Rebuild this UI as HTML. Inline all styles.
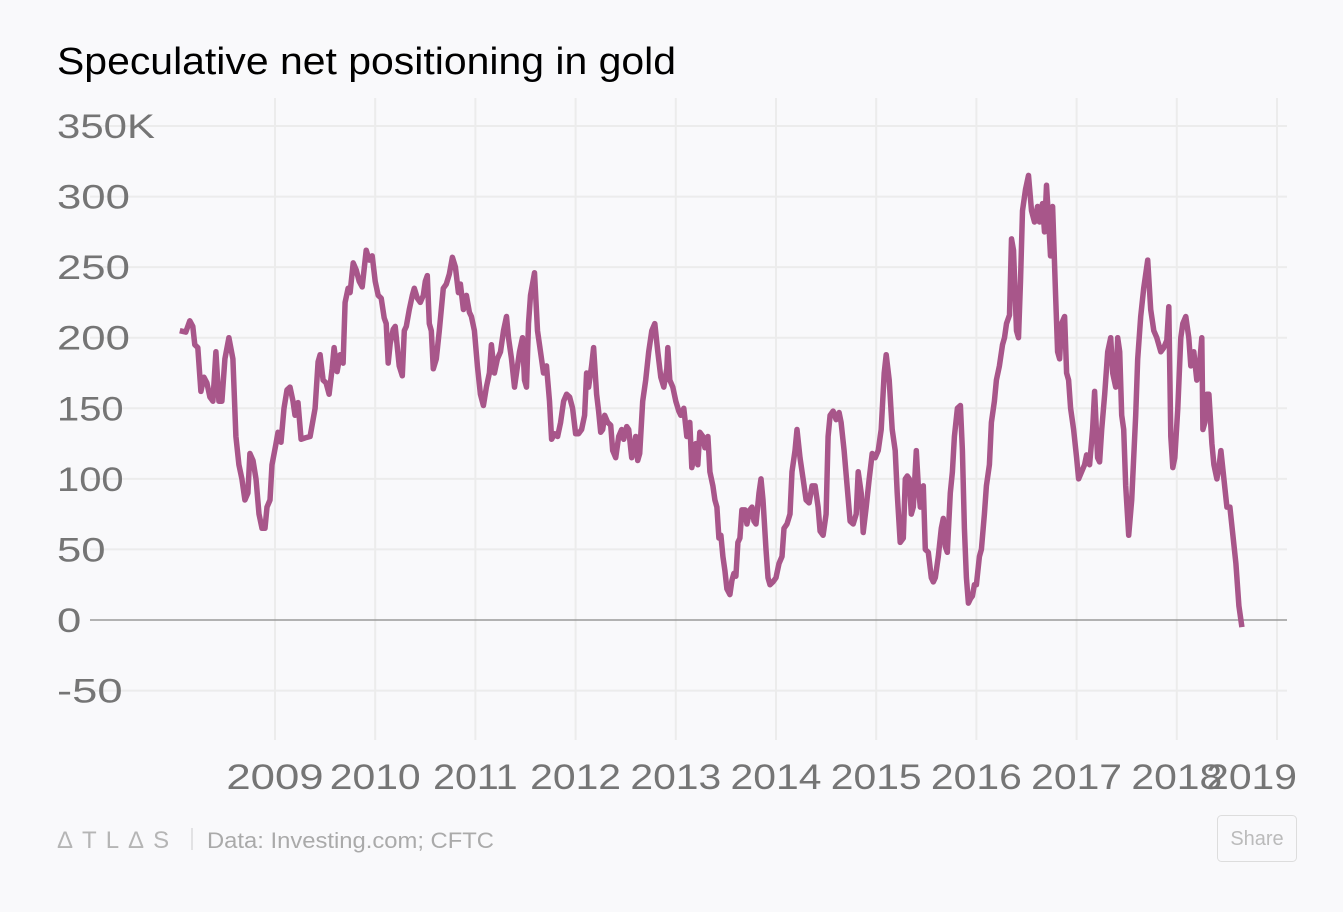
<!DOCTYPE html>
<html><head><meta charset="utf-8"><style>
body{margin:0;background:#f9f9fb;width:1343px;height:907px;overflow:hidden;font-family:"Liberation Sans",sans-serif}
</style></head><body>
<svg width="1343" height="907">
<rect width="1343" height="907" fill="#f9f9fb"/>
<text x="57" y="74" font-size="38" fill="#000" textLength="619" lengthAdjust="spacingAndGlyphs">Speculative net positioning in gold</text>
<g id="grid"></g>
<g id="yl"></g>
<g id="xl"></g>
<path id="ln" fill="none" stroke="#a8568a" stroke-width="5.5" stroke-linejoin="round"/>
<text x="57" y="848" font-size="24" fill="#b5b5b5" letter-spacing="9">ΔTLΔS</text>
<line x1="192" y1="828" x2="192" y2="850" stroke="#ccc"/>
<text x="207" y="848" font-size="22" fill="#aaa" textLength="287" lengthAdjust="spacingAndGlyphs">Data:  Investing.com; CFTC</text>
<g><rect x="1217.5" y="815.5" width="79" height="46" rx="4" fill="none" stroke="#ddd"/>
<text x="1257" y="845" font-size="20" fill="#bbb" text-anchor="middle">Share</text></g>
</svg>
<script>
const dates=[2008.05,2008.11,2008.15,2008.18,2008.2,2008.23,2008.26,2008.29,2008.32,2008.35,2008.38,2008.41,2008.44,2008.47,2008.5,2008.54,2008.58,2008.61,2008.64,2008.67,2008.7,2008.73,2008.75,2008.78,2008.81,2008.84,2008.87,2008.9,2008.92,2008.95,2008.97,2009.01,2009.03,2009.06,2009.09,2009.12,2009.15,2009.18,2009.2,2009.23,2009.26,2009.3,2009.35,2009.4,2009.43,2009.45,2009.48,2009.51,2009.54,2009.57,2009.59,2009.62,2009.65,2009.68,2009.7,2009.73,2009.75,2009.78,2009.81,2009.84,2009.87,2009.91,2009.94,2009.97,2010.0,2010.03,2010.06,2010.09,2010.11,2010.13,2010.15,2010.18,2010.2,2010.24,2010.27,2010.29,2010.31,2010.34,2010.37,2010.39,2010.42,2010.45,2010.48,2010.5,2010.52,2010.54,2010.56,2010.58,2010.61,2010.64,2010.68,2010.71,2010.74,2010.77,2010.8,2010.83,2010.85,2010.88,2010.91,2010.94,2010.96,2010.99,2011.02,2011.05,2011.08,2011.11,2011.14,2011.16,2011.19,2011.22,2011.25,2011.28,2011.31,2011.33,2011.36,2011.39,2011.41,2011.44,2011.47,2011.49,2011.51,2011.53,2011.55,2011.59,2011.62,2011.65,2011.68,2011.71,2011.74,2011.76,2011.79,2011.82,2011.85,2011.88,2011.91,2011.94,2011.97,2012.0,2012.03,2012.06,2012.09,2012.11,2012.13,2012.16,2012.18,2012.21,2012.23,2012.25,2012.27,2012.29,2012.32,2012.35,2012.37,2012.4,2012.43,2012.46,2012.48,2012.51,2012.53,2012.56,2012.58,2012.6,2012.62,2012.64,2012.67,2012.7,2012.73,2012.76,2012.79,2012.82,2012.85,2012.88,2012.91,2012.92,2012.94,2012.97,2013.0,2013.03,2013.05,2013.08,2013.11,2013.14,2013.16,2013.18,2013.2,2013.22,2013.24,2013.27,2013.29,2013.32,2013.34,2013.37,2013.39,2013.41,2013.43,2013.45,2013.47,2013.49,2013.51,2013.54,2013.56,2013.58,2013.6,2013.62,2013.64,2013.66,2013.69,2013.71,2013.74,2013.76,2013.78,2013.8,2013.83,2013.85,2013.87,2013.9,2013.92,2013.94,2013.97,2014.0,2014.03,2014.06,2014.08,2014.11,2014.14,2014.16,2014.19,2014.21,2014.24,2014.27,2014.3,2014.33,2014.36,2014.39,2014.42,2014.44,2014.47,2014.5,2014.52,2014.54,2014.57,2014.6,2014.63,2014.65,2014.68,2014.71,2014.74,2014.77,2014.8,2014.82,2014.85,2014.87,2014.9,2014.93,2014.96,2014.99,2015.02,2015.05,2015.08,2015.1,2015.13,2015.16,2015.19,2015.21,2015.24,2015.27,2015.29,2015.31,2015.33,2015.35,2015.37,2015.4,2015.42,2015.44,2015.47,2015.49,2015.52,2015.55,2015.57,2015.59,2015.62,2015.65,2015.67,2015.69,2015.71,2015.74,2015.76,2015.78,2015.81,2015.84,2015.86,2015.88,2015.9,2015.92,2015.94,2015.96,2015.98,2016.0,2016.03,2016.05,2016.08,2016.1,2016.13,2016.15,2016.18,2016.2,2016.23,2016.26,2016.28,2016.3,2016.33,2016.35,2016.37,2016.4,2016.42,2016.44,2016.46,2016.49,2016.52,2016.55,2016.58,2016.61,2016.63,2016.66,2016.68,2016.7,2016.72,2016.74,2016.76,2016.79,2016.81,2016.83,2016.85,2016.88,2016.9,2016.92,2016.94,2016.97,2017.0,2017.02,2017.05,2017.08,2017.1,2017.13,2017.16,2017.18,2017.21,2017.23,2017.25,2017.28,2017.31,2017.34,2017.36,2017.39,2017.41,2017.43,2017.45,2017.47,2017.49,2017.52,2017.55,2017.59,2017.61,2017.64,2017.67,2017.71,2017.74,2017.77,2017.8,2017.82,2017.84,2017.87,2017.9,2017.92,2017.94,2017.96,2017.98,2018.01,2018.04,2018.06,2018.09,2018.12,2018.14,2018.17,2018.2,2018.22,2018.25,2018.26,2018.28,2018.3,2018.32,2018.35,2018.37,2018.4,2018.42,2018.44,2018.47,2018.5,2018.53,2018.56,2018.59,2018.62,2018.65];
const values=[205,204,212,208,195,193,162,172,168,158,155,190,155,155,185,200,185,130,110,100,85,90,118,113,100,75,65,65,80,85,110,125,133,126,150,163,165,155,145,154,128,129,130,150,183,188,170,168,160,178,193,176,188,182,225,235,232,253,248,240,236,262,255,258,240,230,228,214,210,182,196,206,208,180,173,205,208,220,230,235,228,225,230,240,244,210,205,178,185,205,235,238,245,257,250,232,238,220,230,218,215,205,180,160,152,165,175,195,175,185,190,205,215,200,185,165,175,190,200,170,165,210,230,246,205,190,175,180,155,128,132,130,140,155,160,158,150,132,132,135,145,175,165,180,193,160,148,133,135,145,140,138,120,115,130,135,128,137,135,115,120,130,113,118,155,170,190,205,210,190,172,165,178,193,170,165,155,148,145,150,130,140,108,115,125,110,133,130,122,130,105,95,85,80,58,60,45,35,22,18,28,33,31,55,58,78,78,68,78,80,70,68,90,100,85,50,30,25,27,30,40,45,65,68,75,105,120,135,115,100,85,83,95,95,80,63,60,75,130,145,148,142,147,140,120,95,70,68,75,105,90,62,80,100,118,115,120,135,175,188,170,135,120,90,55,58,100,102,100,75,80,120,95,80,95,50,48,30,27,30,45,65,72,52,48,90,105,130,150,152,120,65,30,12,15,17,25,25,45,50,75,95,110,140,155,170,180,195,200,210,216,270,262,205,200,240,290,305,315,290,282,293,282,295,275,308,285,258,293,230,190,185,210,215,175,170,150,135,115,100,105,110,117,110,135,162,115,112,135,160,190,200,175,165,200,190,145,135,95,60,85,145,185,215,235,255,220,205,200,195,190,193,198,222,130,108,115,150,200,210,215,200,180,190,170,175,200,135,140,160,160,125,110,100,108,120,100,80,80,60,40,10,-5];
const yTicks=[350,300,250,200,150,100,50,0,-50];
const yTickLabels=["350K","300","250","200","150","100","50","0","-50"];
const xTicks=[2009,2010,2011,2012,2013,2014,2015,2016,2017,2018,2019];
const NS="http://www.w3.org/2000/svg";
const x=d=>275+(d-2009)*100.2;
const y=v=>620-v*1.4114;
const grid=document.getElementById('grid'),yl=document.getElementById('yl'),xl=document.getElementById('xl');
function mk(tag,at,parent){const e=document.createElementNS(NS,tag);for(const k in at)e.setAttribute(k,at[k]);parent.appendChild(e);return e;}
function lw(s){let w=0;for(const c of s)w+=c==='-'?17:(c==='K'?25:(c==='1'?18:24.3));return w;}
xTicks.forEach((t,i)=>{
 const l=mk('line',{x1:x(t),x2:x(t),y1:98,y2:740,stroke:'#ececec','stroke-width':2},grid);
 
 
 const s=String(t),w=lw(s);
 const cx=Math.min(x(t),1297-w/2);
 const tx=mk('text',{x:cx-w/2,y:789,'font-size':35,fill:'#757575',textLength:w,lengthAdjust:'spacingAndGlyphs'},xl);
 tx.textContent=s;
 
 
});
yTicks.forEach((t,i)=>{
 const l=mk('line',{x1:90,x2:1287,y1:y(t),y2:y(t),stroke:t===0?'#9a9a9a':'#ececec','stroke-width':t===0?1.5:2},grid);
 
 
 const tx=mk('text',{x:57,y:y(t)+12,'font-size':34,fill:'#757575',textLength:lw(yTickLabels[i]),lengthAdjust:'spacingAndGlyphs'},yl);
 tx.textContent=yTickLabels[i];
 
 
});
document.getElementById('ln').setAttribute('d',dates.map((d,i)=>(i?'L':'M')+x(d).toFixed(1)+','+y(values[i]).toFixed(1)).join(''));
</script>
</body></html>
